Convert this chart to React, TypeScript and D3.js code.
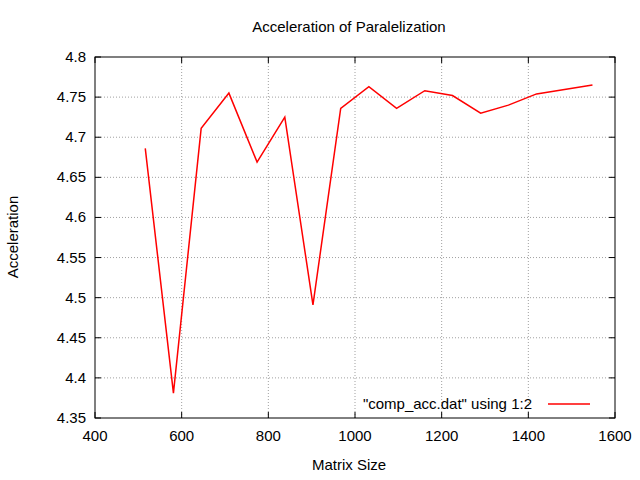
import * as d3 from "d3";

const sizes = [516, 581, 645, 709, 774, 838, 903, 967, 1032, 1096, 1161, 1225, 1290, 1354, 1419, 1548];
const accel = [4.686, 4.381, 4.711, 4.755, 4.669, 4.725, 4.491, 4.736, 4.763, 4.736, 4.758, 4.752, 4.730, 4.740, 4.754, 4.765];
const xTicks = [400, 600, 800, 1000, 1200, 1400, 1600];
const yTicks = [4.35, 4.4, 4.45, 4.5, 4.55, 4.6, 4.65, 4.7, 4.75, 4.8];

const W = 640, H = 480;
const L = 95, R = 615, T = 57, B = 418;
const font = "Liberation Sans, Arial, sans-serif";

export default function App() {
  const x = d3.scaleLinear().domain([400, 1600]).range([L, R]);
  const y = d3.scaleLinear().domain([4.35, 4.8]).range([B, T]);
  const line = d3.line<number>().x((_, i) => x(sizes[i])).y(d => y(d));
  return (
    <svg width={W} height={H} style={{ position: "absolute", left: 0, top: 0, background: "#fff" }} fontFamily={font} fontSize={15}>
      {xTicks.map(t => (
        <g key={"x" + t}>
          {t > 400 && t < 1600 && <line x1={x(t)} x2={x(t)} y1={T} y2={B} stroke="#a0a0a0" strokeDasharray="1,2" />}
          <line x1={x(t)} x2={x(t)} y1={B} y2={B - 6} stroke="#000" />
          <line x1={x(t)} x2={x(t)} y1={T} y2={T + 6} stroke="#000" />
          <text x={x(t)} y={B + 23} textAnchor="middle">{t}</text>
        </g>
      ))}
      {yTicks.map(t => (
        <g key={"y" + t}>
          {t > 4.35 && t < 4.8 && <line x1={L} x2={R} y1={y(t)} y2={y(t)} stroke="#a0a0a0" strokeDasharray="1,2" />}
          <line x1={L} x2={L + 6} y1={y(t)} y2={y(t)} stroke="#000" />
          <line x1={R} x2={R - 6} y1={y(t)} y2={y(t)} stroke="#000" />
          <text x={L - 9} y={y(t) + 5} textAnchor="end">{String(t)}</text>
        </g>
      ))}
      <rect x={L} y={T} width={R - L} height={B - T} fill="none" stroke="#000" />
      <path d={line(accel) ?? ""} fill="none" stroke="#f00" strokeWidth={1.5} />
      <text x={349} y={32} textAnchor="middle">Acceleration of Paralelization</text>
      <text x={349} y={470} textAnchor="middle">Matrix Size</text>
      <text transform="translate(18,237) rotate(-90)" textAnchor="middle">Acceleration</text>
      <text x={532} y={409} textAnchor="end">"comp_acc.dat" using 1:2</text>
      <line x1={548} x2={590} y1={404} y2={404} stroke="#f00" strokeWidth={1.5} />
    </svg>
  );
}
